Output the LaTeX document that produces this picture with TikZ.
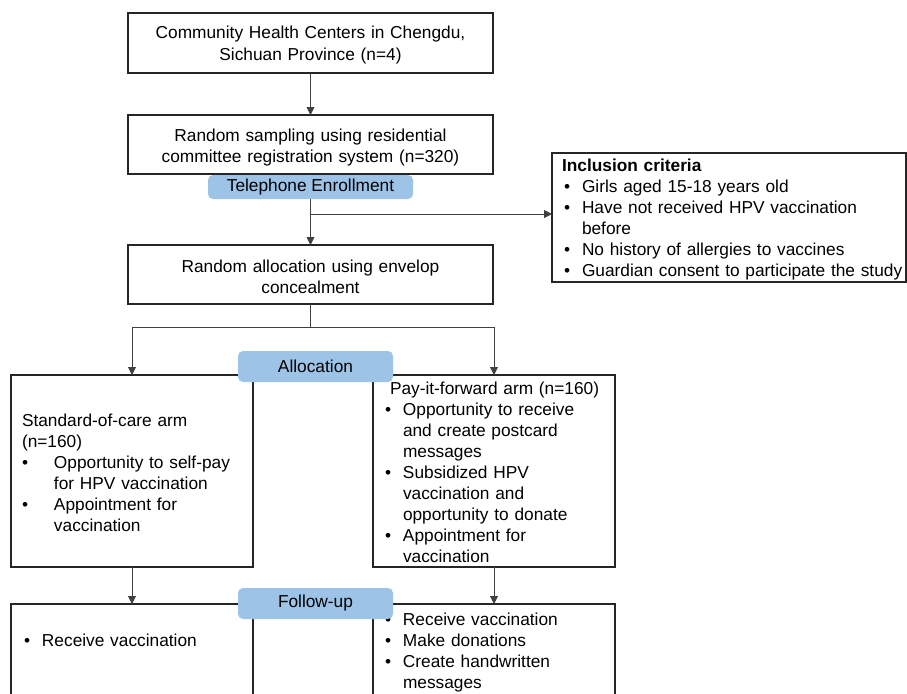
\documentclass[tikz,border=0pt]{standalone}
\usepackage{fontspec}
\setmainfont{Liberation Sans}
\usetikzlibrary{arrows.meta}
\definecolor{bluebox}{HTML}{9DC3E6}
\definecolor{connclr}{HTML}{404040}
\newcommand\mybul[1]{\makebox[#1][l]{\textbullet}}
\begin{document}
\begin{tikzpicture}[x=1pt,y=-1pt,
  every node/.style={font=\fontsize{17.3}{21}\selectfont},
  flowbox/.style={draw=black!85, line width=1.2pt, anchor=north west, inner ysep=0pt, outer sep=0pt},
  tagbox/.style={fill=bluebox, rounded corners=5pt, inner sep=0pt, outer sep=0pt},
  conn/.style={draw=connclr, line width=0.9pt},
  arr/.style={conn, -{Triangle[width=8pt,length=8pt]}}
]
\useasboundingbox (0,0) rectangle (907,693);
\clip (0,0) rectangle (907,693);

% main boxes
\node[flowbox, align=center, text width=353pt, inner xsep=6pt, text height=26pt, text depth=34pt] (c1) at (128,13)
  {Community Health Centers in Chengdu,\\Sichuan Province (n=4)};
\node[flowbox, align=center, text width=353pt, inner xsep=6pt, text height=26pt, text depth=33pt] (c2) at (128,115)
  {Random sampling using residential\\committee registration system (n=320)};
\node[flowbox, align=center, text width=353pt, inner xsep=6pt, text height=27pt, text depth=32pt] (c3) at (128,245)
  {Random allocation using envelop\\concealment};
\node[flowbox, align=left, text width=346pt, inner xsep=4pt, text height=18pt, text depth=111pt] (incl) at (552,153)
  {\hspace*{6pt}\textbf{Inclusion criteria}\\
   \hspace*{8pt}\mybul{18pt}Girls aged 15-18 years old\\
   \hspace*{8pt}\mybul{18pt}Have not received HPV vaccination\\
   \hspace*{26pt}before\\
   \hspace*{8pt}\mybul{18pt}No history of allergies to vaccines\\
   \mbox{\hspace*{8pt}\mybul{18pt}Guardian consent to participate the study}};
\node[flowbox, align=left, text width=220pt, inner xsep=11pt, text height=51pt, text depth=141pt] (armL) at (11,375)
  {Standard-of-care arm\\
   (n=160)\\
   \mybul{32pt}Opportunity to self-pay\\
   \hspace*{32pt}for HPV vaccination\\
   \mybul{32pt}Appointment for\\
   \hspace*{32pt}vaccination};
\node[flowbox, align=left, text width=218pt, inner xsep=12pt, text height=19pt, text depth=173pt] (armR) at (373,375)
  {\hspace*{5pt}Pay-it-forward arm (n=160)\\
   \mybul{18pt}Opportunity to receive\\
   \hspace*{18pt}and create postcard\\
   \hspace*{18pt}messages\\
   \mybul{18pt}Subsidized HPV\\
   \hspace*{18pt}vaccination and\\
   \hspace*{18pt}opportunity to donate\\
   \mybul{18pt}Appointment for\\
   \hspace*{18pt}vaccination};
\node[flowbox, align=left, text width=216pt, inner xsep=13pt, text height=42pt, text depth=100pt] (fuL) at (11,604)
  {\mybul{18pt}Receive vaccination};
\node[flowbox, align=left, text width=218pt, inner xsep=12pt, text height=21pt, text depth=100pt] (fuR) at (373,604)
  {\mybul{18pt}Receive vaccination\\
   \mybul{18pt}Make donations\\
   \mybul{18pt}Create handwritten\\
   \hspace*{18pt}messages};

% connectors
\coordinate (j1) at (310.5,214);
\coordinate (split) at (310.5,327);
\draw[arr] (c1.south) -- (c2.north);
\draw[arr] (c2.south) -- (c3.north);
\draw[arr] (j1) -- (j1 -| incl.west);
\draw[conn] (c3.south) -- (split);
\draw[arr] (split) -| (armL.north);
\draw[arr] (split) -| (armR.north);
\draw[arr] (armL.south) -- (fuL.north);
\draw[arr] (armR.south) -- (fuR.north);

% stage tags
\node[tagbox, minimum width=205pt, minimum height=24pt] (tel) at (310.5,187) {Telephone Enrollment};
\node[tagbox, minimum width=155pt, minimum height=31pt] (alloc) at (315.5,366.5) {Allocation};
\node[tagbox, minimum width=155pt, minimum height=31pt] (fup) at (315.5,603.5) {Follow-up};
\end{tikzpicture}
\end{document}
